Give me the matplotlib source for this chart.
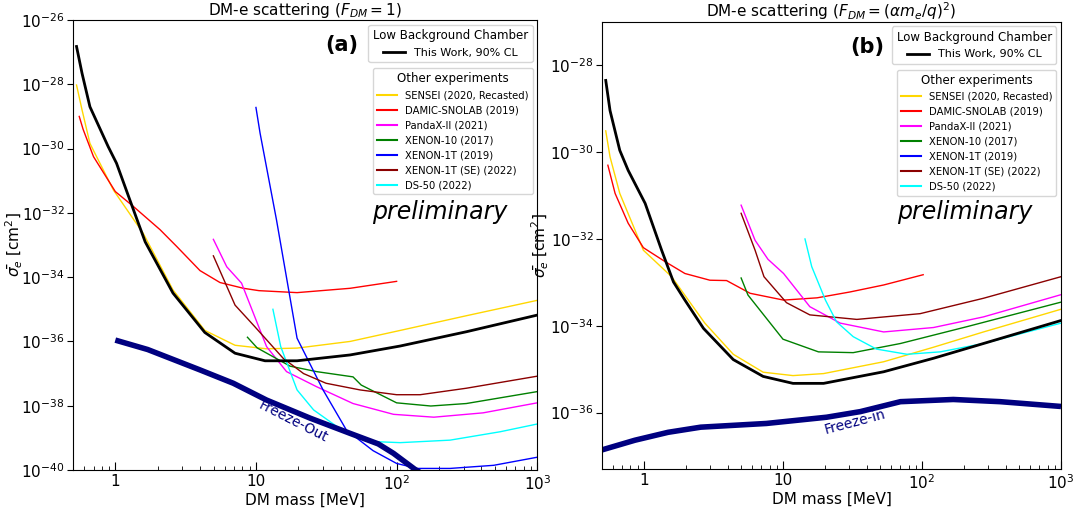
import numpy as np
import matplotlib
matplotlib.use('Agg')
import matplotlib.pyplot as plt
from matplotlib.lines import Line2D

# ---------- data (mass in MeV, sigma_e in cm^2) ----------
# panel (a): F_DM = 1
a_this_m = [0.53, 0.58, 0.66, 0.89, 1.02, 1.27, 1.63, 2.57, 4.33, 7.1, 11.6, 19.6, 46.7, 106, 313, 1000]
a_this_s = [1.5e-27, 2.2e-28, 2.0e-29, 1.15e-30, 3.5e-31, 2.5e-32, 1.26e-33, 3.2e-35, 1.9e-36,
            4.3e-37, 2.5e-37, 2.5e-37, 3.8e-37, 7.2e-37, 2.0e-36, 6.6e-36]
a_sensei_m = [0.53, 0.58, 0.66, 0.97, 1.58, 2.57, 4.33, 7.1, 11.9, 19.6, 46.7, 106, 313, 1000]
a_sensei_s = [9.5e-29, 1.6e-29, 1.45e-30, 5.1e-32, 2.3e-33, 4.0e-35, 2.2e-36, 7.6e-37, 5.9e-37,
              6.2e-37, 1.0e-36, 2.2e-36, 6.3e-36, 1.9e-35]
a_damic_m = [0.554, 0.59, 0.70, 1.0, 1.34, 2.08, 2.74, 4.0, 5.55, 8.15, 10.5, 19.6, 46.7, 100]
a_damic_s = [1.0e-29, 4.0e-30, 5.6e-31, 4.6e-32, 1.6e-32, 3.0e-33, 8.9e-34, 1.6e-34, 6.8e-35,
             4.5e-35, 3.8e-35, 3.3e-35, 4.5e-35, 7.4e-35]
a_pandax_m = [4.98, 6.2, 7.9, 9.8, 11.9, 16.5, 27, 49, 95, 184, 412, 1000]
a_pandax_s = [1.5e-33, 2.1e-34, 6.5e-35, 5.9e-36, 6.9e-37, 1.15e-37, 3.9e-38, 1.17e-38, 5.4e-39,
              4.4e-39, 6.0e-39, 1.23e-38]
a_xe10_m = [8.7, 10.2, 17.5, 27, 49, 56, 100, 175, 313, 1000]
a_xe10_s = [1.35e-36, 6.3e-37, 1.7e-37, 1.15e-37, 7.9e-38, 4.4e-38, 1.23e-38, 9.8e-39, 1.17e-38, 2.75e-38]
a_xe1t_m = [10.0, 10.7, 14.0, 19.6, 30, 44, 68, 100, 140, 240, 490, 1000]
a_xe1t_s = [1.9e-29, 3.0e-30, 6.0e-33, 1.26e-36, 3.1e-38, 1.74e-39, 4.0e-40, 1.6e-40, 1.12e-40,
            1.12e-40, 1.4e-40, 2.5e-40]
a_xe1tse_m = [4.98, 7.1, 9.8, 15.6, 21.8, 31.5, 55, 100, 147, 313, 1000]
a_xe1tse_s = [4.6e-34, 1.35e-35, 2.9e-36, 3.0e-37, 1.0e-37, 5.0e-38, 3.1e-38, 2.2e-38, 2.2e-38,
              3.5e-38, 8.3e-38]
a_ds50_m = [13.2, 15.0, 19.6, 25.7, 44, 72, 106, 240, 545, 1000]
a_ds50_s = [1.0e-35, 6.9e-37, 3.1e-38, 7.4e-39, 1.38e-39, 7.6e-40, 7.1e-40, 8.5e-40, 1.55e-39, 2.7e-39]
a_freeze_m = [1.0, 1.7, 4.0, 6.9, 11.9, 24.3, 46.7, 74, 95, 135, 150]
a_freeze_s = [1.1e-36, 5.6e-37, 1.3e-37, 5.0e-38, 1.5e-38, 4.1e-39, 1.38e-39, 6.5e-40, 3.3e-40,
              1.05e-40, 7.9e-41]

# panel (b): F_DM = (alpha m_e / q)^2
b_this_m = [0.531, 0.57, 0.67, 0.77, 1.02, 1.34, 1.63, 1.97, 2.68, 4.39, 7.2, 11.8, 19.6, 53, 121, 277, 1000]
b_this_s = [4.5e-29, 9.1e-30, 1.1e-30, 3.8e-31, 6.6e-32, 5.5e-33, 1.02e-33, 3.9e-34, 8.7e-35,
            1.66e-35, 6.8e-36, 4.7e-36, 4.7e-36, 8.7e-36, 1.78e-35, 3.9e-35, 1.32e-34]
b_sensei_m = [0.531, 0.57, 0.67, 0.99, 1.58, 2.74, 4.39, 7.2, 11.8, 19.6, 53, 121, 277, 1000]
b_sensei_s = [3.1e-30, 7.8e-31, 1.12e-31, 5.5e-33, 1.35e-33, 1.15e-34, 2.2e-35, 8.5e-36, 7.1e-36,
              7.9e-36, 1.48e-35, 3.2e-35, 7.2e-35, 2.4e-34]
b_damic_m = [0.55, 0.62, 0.77, 0.99, 1.42, 1.97, 2.98, 3.93, 5.8, 10.1, 17.6, 30.3, 53, 102]
b_damic_s = [5.0e-31, 1.12e-31, 2.3e-32, 6.3e-33, 3.0e-33, 1.6e-33, 1.12e-33, 1.1e-33, 5.6e-34,
             3.9e-34, 4.4e-34, 6.0e-34, 8.7e-34, 1.5e-33]
b_pandax_m = [5.0, 6.3, 7.8, 10.1, 15.6, 25.8, 53, 121, 277, 1000]
b_pandax_s = [6.0e-32, 9.3e-33, 3.4e-33, 1.6e-33, 2.75e-34, 1.15e-34, 7.2e-35, 9.1e-35, 1.6e-34, 5.2e-34]
b_xe10_m = [5.0, 5.6, 10.0, 18, 32, 70, 210, 1000]
b_xe10_s = [1.26e-33, 5.1e-34, 4.9e-35, 2.5e-35, 2.4e-35, 3.9e-35, 9.5e-35, 3.5e-34]
b_xe1tse_m = [5.0, 6.3, 7.3, 10.6, 15.6, 34, 97, 277, 1000]
b_xe1tse_s = [3.9e-32, 5.5e-33, 1.35e-33, 3.4e-34, 1.78e-34, 1.4e-34, 1.9e-34, 4.3e-34, 1.35e-33]
b_ds50_m = [14.4, 16.1, 20.2, 24.3, 32, 47, 78, 135, 277, 1000]
b_ds50_s = [1.0e-32, 2.3e-33, 3.9e-34, 1.23e-34, 5.6e-35, 2.9e-35, 2.2e-35, 2.5e-35, 3.9e-35, 1.15e-34]
b_freeze_m = [0.5, 0.86, 1.49, 2.56, 7.6, 20.6, 36, 70, 168, 365, 1000]
b_freeze_s = [1.38e-37, 2.3e-37, 3.5e-37, 4.6e-37, 5.6e-37, 7.8e-37, 1.05e-36, 1.78e-36, 2.0e-36,
              1.78e-36, 1.38e-36]

exp_names = ['SENSEI (2020, Recasted)', 'DAMIC-SNOLAB (2019)', 'PandaX-II (2021)', 'XENON-10 (2017)',
             'XENON-1T (2019)', 'XENON-1T (SE) (2022)', 'DS-50 (2022)']
exp_colors = ['gold', 'red', 'magenta', 'green', 'blue', 'darkred', 'cyan']

a_curves = [(a_sensei_m, a_sensei_s), (a_damic_m, a_damic_s), (a_pandax_m, a_pandax_s),
            (a_xe10_m, a_xe10_s), (a_xe1t_m, a_xe1t_s), (a_xe1tse_m, a_xe1tse_s), (a_ds50_m, a_ds50_s)]
b_curves = [(b_sensei_m, b_sensei_s), (b_damic_m, b_damic_s), (b_pandax_m, b_pandax_s),
            (b_xe10_m, b_xe10_s), None, (b_xe1tse_m, b_xe1tse_s), (b_ds50_m, b_ds50_s)]

fig = plt.figure(figsize=(10.81, 5.09), dpi=100)
ax1 = fig.add_axes([0.0675, 0.0766, 0.4295, 0.8841])
ax2 = fig.add_axes([0.557, 0.0786, 0.4245, 0.8782])


def setup(ax, curves, this_m, this_s, fr_m, fr_s, ylim, yticks, title, tag, fr_label, fr_pos, fr_rot, ylab_x):
    for (c, col) in zip(curves, exp_colors):
        if c is not None:
            ax.plot(c[0], c[1], color=col, lw=1)
    ax.plot(fr_m, fr_s, color='navy', lw=4, solid_capstyle='butt')
    ax.plot(this_m, this_s, color='black', lw=2)

    ax.set_xscale('log')
    ax.set_yscale('log')
    ax.set_xlim(0.5, 1000)
    ax.set_ylim(*ylim)
    ax.set_yticks(yticks)
    ax.yaxis.set_minor_locator(matplotlib.ticker.NullLocator())
    ax.set_xticks([1, 10, 100, 1000])
    ax.set_xticklabels(['1', '10', r'$10^2$', r'$10^3$'])
    ax.tick_params(axis='x', which='both', direction='in', labelsize=11, pad=3)
    ax.tick_params(axis='x', which='major', length=6)
    ax.tick_params(axis='x', which='minor', length=3)
    ax.tick_params(axis='y', which='major', direction='out', length=4, labelsize=11, pad=2)
    ax.set_xlabel('DM mass [MeV]', fontsize=11, labelpad=0)
    ax.set_ylabel(r'$\bar{\sigma_e}$ [cm$^2$]', fontsize=11)
    ax.yaxis.set_label_coords(ylab_x, 0.5)
    ax.set_title(title, fontsize=11, pad=3)

    ax.text(0.578, 0.945, tag, transform=ax.transAxes, fontsize=15, fontweight='bold',
            ha='center', va='center')
    ax.text(0.79, 0.574, 'preliminary', transform=ax.transAxes, fontsize=17, style='italic',
            ha='center', va='center')
    ax.text(fr_pos[0], fr_pos[1], fr_label, transform=ax.transAxes, fontsize=10, color='navy',
            rotation=fr_rot, ha='center', va='center')

    h1 = [Line2D([], [], color='black', lw=2)]
    leg1 = ax.legend(h1, ['This Work, 90% CL'], title='Low Background Chamber', loc='upper right',
                     bbox_to_anchor=(0.99, 0.99), borderaxespad=0, fontsize=8, title_fontsize=8.5)
    ax.add_artist(leg1)
    h2 = [Line2D([], [], color=col, lw=1.5) for col in exp_colors]
    ax.legend(h2, exp_names, title='Other experiments', loc='upper right',
              bbox_to_anchor=(0.99, 0.893), borderaxespad=0, fontsize=7.2, title_fontsize=8.5,
              labelspacing=0.5)


setup(ax1, a_curves, a_this_m, a_this_s, a_freeze_m, a_freeze_s, (1e-40, 1e-26),
      [1e-40, 1e-38, 1e-36, 1e-34, 1e-32, 1e-30, 1e-28, 1e-26],
      r'DM-e scattering ($F_{DM}=1$)', '(a)', 'Freeze-Out', (0.474, 0.107), -27, -0.103)
setup(ax2, b_curves, b_this_m, b_this_s, b_freeze_m, b_freeze_s, (5e-38, 1e-27),
      [1e-36, 1e-34, 1e-32, 1e-30, 1e-28],
      r'DM-e scattering ($F_{DM}=(\alpha m_e/q)^2$)', '(b)', 'Freeze-in', (0.551, 0.105), 15, -0.112)

fig.savefig('out.png', dpi=100)
